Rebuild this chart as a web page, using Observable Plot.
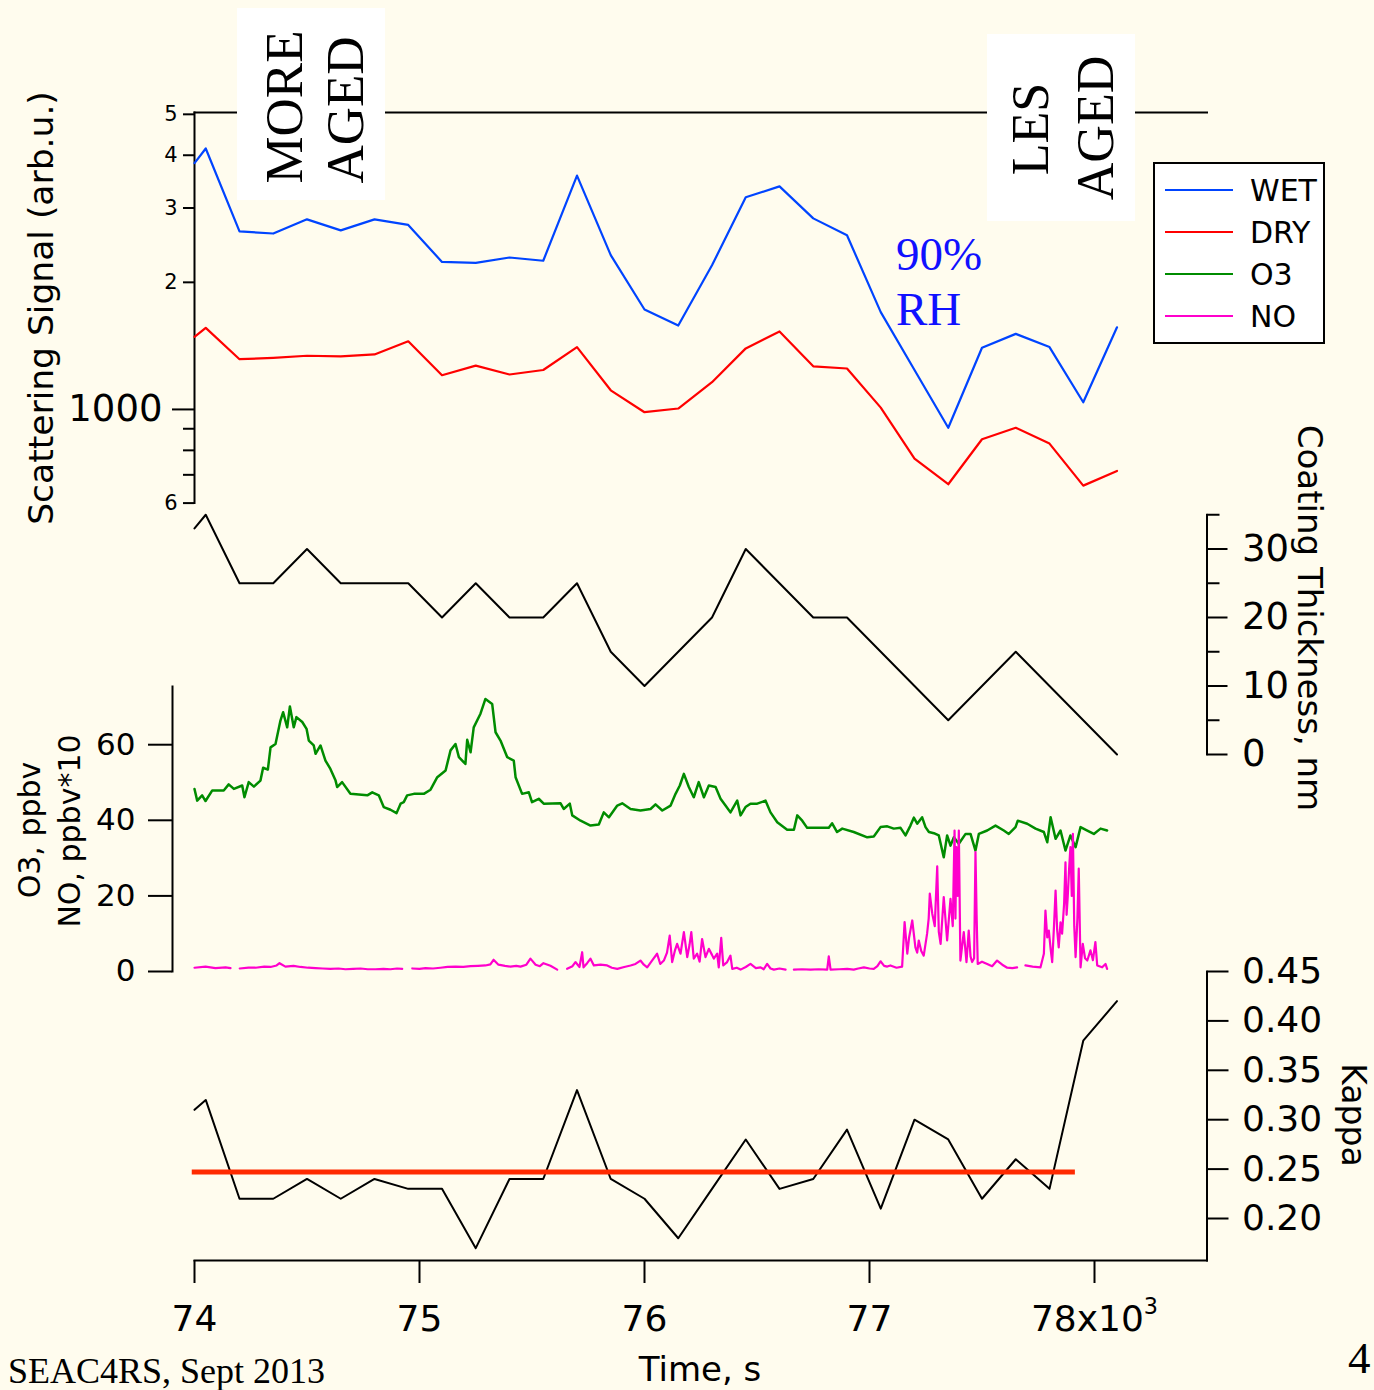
<!DOCTYPE html>
<html>
<head>
<meta charset="utf-8">
<script src="https://cdn.jsdelivr.net/npm/d3@7"></script>
<script src="https://cdn.jsdelivr.net/npm/@observablehq/plot@0.6"></script>
<style>
  body { margin: 0; background: #fffcee; }
  #fig { position: relative; width: 1374px; height: 1390px; overflow: hidden; background: #fffcee; }
  #fig > svg { position: absolute; left: 0; top: 0; }
</style>
</head>
<body>
<div id="fig"></div>
<script>
// ---- data -------------------------------------------------------------
// retrieval times (s)
const sampleTime = [74000, 74050, 74200, 74350, 74500, 74650, 74800, 74950, 75100, 75250,
  75400, 75550, 75700, 75850, 76000, 76150, 76300, 76450, 76600, 76750,
  76900, 77050, 77200, 77350, 77500, 77650, 77800, 77950, 78100];
// scattering signal, arb. units
const wetSignal = [3830, 4150, 2640, 2610, 2820, 2655, 2820, 2735, 2235, 2225,
  2290, 2250, 3580, 2320, 1725, 1580, 2195, 3180, 3375, 2835,
  2585, 1700, 1240, 905, 1400, 1510, 1405, 1040, 1565];
const drySignal = [1485, 1560, 1315, 1325, 1340, 1335, 1350, 1450, 1205, 1270,
  1210, 1240, 1405, 1110, 985, 1005, 1160, 1395, 1530, 1265,
  1250, 1010, 765, 665, 850, 905, 830, 660, 715];
// coating thickness, nm
const coatingNm = [33, 35, 25, 25, 30, 25, 25, 25, 20, 25,
  20, 20, 25, 15, 10, 15, 20, 30, 25, 20,
  20, 15, 10, 5, 10, 15, 10, 5, 0];
// hygroscopicity parameter
const kappa = [0.31, 0.32, 0.22, 0.22, 0.24, 0.22, 0.24, 0.23, 0.23, 0.17,
  0.24, 0.24, 0.33, 0.24, 0.22, 0.18, 0.23, 0.28, 0.23, 0.24,
  0.29, 0.21, 0.30, 0.28, 0.22, 0.26, 0.23, 0.38, 0.42];
// reference kappa level and the time span it is drawn over
const kappaRef = [{k: 0.247, t1: 73990, t2: 77915}];

// O3 (ppbv): [time s, value]
const o3Readings = [
  [74000,48.3],[74012,45.2],[74034,46.6],[74049,45.1],[74079,47.9],[74130,47.9],[74152,49.5],[74175,48.3],[74212,49.2],[74222,46.1],
  [74241,50.1],[74264,48.9],[74293,50.5],[74305,53.9],[74326,53.4],[74338,59.3],[74360,60.2],[74382,66.4],[74394,68.6],[74412,64.6],
  [74424,70.1],[74441,64.6],[74453,67.3],[74479,66.0],[74498,64.2],[74508,61.1],[74530,59.8],[74538,57.6],[74560,59.8],[74582,55.8],
  [74604,53.6],[74627,50.5],[74634,48.8],[74656,50.1],[74693,47.0],[74768,46.6],[74790,47.4],[74819,46.6],[74841,43.5],[74871,42.8],
  [74898,41.9],[74916,44.4],[74930,44.8],[74945,46.6],[74975,47.0],[75019,47.0],[75049,48.1],[75079,51.4],[75116,53.2],[75138,58.5],
  [75160,60.2],[75175,56.7],[75204,54.9],[75212,61.3],[75227,58.0],[75241,64.6],[75271,68.2],[75293,72.1],[75323,70.8],[75338,63.3],
  [75360,61.1],[75390,56.7],[75419,55.8],[75427,51.4],[75456,47.0],[75486,47.4],[75500,44.8],[75530,45.7],[75552,44.4],[75627,44.5],
  [75641,43.0],[75668,44.4],[75679,41.3],[75716,39.9],[75760,38.6],[75797,38.9],[75819,42.1],[75842,40.8],[75879,43.9],[75901,44.5],
  [75938,43.0],[75982,42.6],[76027,43.0],[76049,44.2],[76079,42.6],[76116,43.9],[76138,47.0],[76157,49.2],[76175,52.3],[76197,48.8],
  [76219,46.1],[76241,50.1],[76264,46.1],[76286,49.2],[76316,48.8],[76338,45.7],[76360,43.9],[76382,42.1],[76412,45.2],[76427,41.3],
  [76449,43.5],[76471,44.4],[76501,44.4],[76538,45.2],[76560,42.1],[76590,39.5],[76634,37.5],[76664,37.5],[76679,41.3],[76701,39.9],
  [76723,38.0],[76782,38.0],[76819,38.0],[76834,39.2],[76856,36.9],[76879,37.8],[76930,36.9],[76990,35.5],[77019,35.7],[77049,38.2],
  [77079,38.4],[77108,37.8],[77138,38.0],[77160,36.0],[77182,38.6],[77197,40.7],[77212,39.1],[77234,40.8],[77249,38.2],[77264,36.9],
  [77286,36.6],[77308,36.0],[77330,30.2],[77345,36.0],[77360,33.3],[77375,35.5],[77397,33.8],[77427,36.4],[77449,36.4],[77471,32.0],
  [77486,36.4],[77523,37.3],[77560,38.6],[77597,37.3],[77619,36.4],[77649,38.2],[77659,39.9],[77701,39.1],[77738,37.8],[77775,36.9],
  [77790,34.2],[77805,40.8],[77827,35.1],[77849,37.3],[77871,32.0],[77893,36.0],[77916,32.9],[77938,38.2],[77968,37.3],[77997,36.4],
  [78027,37.8],[78056,37.3]
];

// NO (ppbv*10): [time s, value]; null marks a data gap
const noReadings = [
  [74000,1.0],[74049,1.3],[74093,0.9],[74138,1.1],[74160,0.9],[74180,null],
  [74201,0.8],[74240,1.0],[74271,1.0],[74310,1.3],[74338,1.2],[74365,1.6],[74378,2.2],[74404,1.3],[74440,1.5],[74471,1.2],
  [74505,1.0],[74538,0.9],[74570,0.8],[74604,0.7],[74640,0.8],[74671,0.6],[74705,0.7],[74738,0.8],[74770,0.6],[74804,0.6],
  [74840,0.7],[74871,0.6],[74900,0.8],[74923,0.7],[74945,null],
  [74968,0.8],[75000,0.7],[75027,0.9],[75060,0.8],[75093,1.0],[75125,1.2],[75160,1.3],[75195,1.2],[75227,1.4],[75260,1.5],
  [75293,1.6],[75315,1.9],[75329,3.1],[75351,1.8],[75380,1.5],[75404,1.3],[75430,1.5],[75449,1.3],[75475,1.8],[75493,3.4],
  [75516,1.8],[75535,1.4],[75551,2.2],[75582,1.5],[75612,0.5],[75634,null],
  [75656,0.7],[75680,1.4],[75693,2.5],[75711,1.2],[75723,5.1],[75729,1.1],[75745,2.2],[75760,3.4],[75775,1.6],[75805,1.8],
  [75834,1.6],[75855,1.0],[75879,0.7],[75910,1.2],[75938,1.6],[75960,2.0],[75982,2.9],[75997,1.8],[76012,1.1],[76035,3.0],
  [76056,4.7],[76070,2.0],[76086,2.9],[76100,5.0],[76112,9.5],[76123,2.5],[76135,5.5],[76145,7.3],[76160,4.7],[76175,10.4],
  [76190,3.8],[76200,7.0],[76208,10.4],[76219,3.4],[76234,4.7],[76245,2.6],[76256,8.6],[76271,3.8],[76286,6.0],[76300,4.4],
  [76308,3.4],[76323,4.7],[76330,1.1],[76341,8.9],[76350,1.6],[76366,2.4],[76382,4.2],[76390,0.7],[76410,1.0],[76427,0.5],
  [76450,1.2],[76471,2.0],[76495,0.9],[76516,1.1],[76530,0.6],[76545,2.0],[76560,0.8],[76575,0.5],[76600,0.8],[76627,0.5],[76645,null],
  [76664,0.5],[76700,0.6],[76738,0.5],[76775,0.6],[76812,0.5],[76819,4.0],[76827,0.5],[76865,0.6],[76901,0.7],[76930,0.5],
  [76950,0.8],[76975,1.1],[77000,0.8],[77019,0.7],[77035,1.4],[77049,2.7],[77065,1.5],[77079,1.3],[77093,1.6],[77120,1.0],
  [77145,1.3],[77156,13.1],[77168,4.7],[77176,9.0],[77190,13.5],[77204,6.4],[77212,5.0],[77219,8.2],[77230,5.4],[77241,4.2],
  [77256,10.0],[77263,14.0],[77268,20.6],[77279,15.3],[77290,12.0],[77301,27.8],[77308,10.5],[77316,7.3],[77330,19.7],[77345,8.2],
  [77360,19.2],[77370,12.0],[77378,37.3],[77382,14.0],[77386,32.9],[77392,20.0],[77397,37.3],[77404,2.9],[77419,10.4],[77431,2.5],
  [77441,10.8],[77449,4.0],[77456,2.5],[77465,3.5],[77471,31.6],[77476,15.0],[77481,2.0],[77500,2.6],[77523,2.0],[77545,1.4],
  [77567,2.9],[77590,1.8],[77612,1.0],[77635,0.9],[77656,1.1],[77675,null],
  [77693,1.6],[77725,1.3],[77760,1.1],[77775,4.7],[77782,16.1],[77790,9.0],[77797,10.8],[77805,6.0],[77812,2.5],[77820,12.0],
  [77827,21.4],[77834,11.0],[77841,6.4],[77849,13.0],[77856,10.0],[77865,18.0],[77871,28.9],[77876,15.0],[77881,19.7],[77887,27.0],
  [77893,32.9],[77899,20.0],[77904,36.4],[77910,12.0],[77916,3.8],[77924,14.0],[77930,27.2],[77938,1.1],[77948,7.3],[77958,3.5],
  [77968,2.9],[77982,5.6],[77993,3.0],[78004,7.8],[78012,1.6],[78034,1.1],[78049,2.0],[78056,0.7]
];

// axis ticks
const timeTicks = [74000, 75000, 76000, 77000, 78000];
const scatMajorTicks = [1000];
const scatLabelledMinor = [600, 2000, 3000, 4000, 5000];
const scatPlainMinor = [700, 800, 900];
const coatMajorTicks = [0, 10, 20, 30];
const coatMinorTicks = [5, 15, 25, 35];
const o3Ticks = [0, 20, 40, 60];
const kappaTicks = [0.20, 0.25, 0.30, 0.35, 0.40, 0.45];

const legendKeys = ["WET", "DRY", "O3", "NO"];
const seriesColor = {WET: "#0044ff", DRY: "#ff0000", O3: "#008c00", NO: "#ff00cc"};

// ---- layout -----------------------------------------------------------
const W = 1374, H = 1390;
const SANS = "'DejaVu Sans', Verdana, sans-serif";
const SERIF = "'Liberation Serif', 'Times New Roman', serif";
const xDomain = [74000, 78500];
const ML = 194, MR = W - 1206.5;
const fig = document.getElementById("fig");

function panel(top, bottom, y, marks, showX = false) {
  const svg = Plot.plot({
    width: W, height: H,
    marginLeft: ML, marginRight: MR, marginTop: top, marginBottom: H - bottom,
    x: showX ? {domain: xDomain} : {domain: xDomain, axis: null},
    y,
    marks,
    style: {background: "transparent", overflow: "visible", fontFamily: SANS, color: "black"}
  });
  fig.appendChild(svg);
  return svg;
}

// scattering signal (log scale)
panel(112, 502.6, {type: "log", domain: [600, 5050]}, [
  Plot.frame({anchor: "top", strokeWidth: 2}),
  Plot.frame({anchor: "left", strokeWidth: 2}),
  Plot.axisY({ticks: scatMajorTicks, tickSize: 22, tickPadding: 10, fontSize: 37, strokeWidth: 2, label: null, tickFormat: d => String(d)}),
  Plot.axisY({ticks: scatLabelledMinor, tickSize: 11, tickPadding: 6, fontSize: 21, strokeWidth: 2, label: null, tickFormat: d => String(d)[0]}),
  Plot.axisY({ticks: scatPlainMinor, tickSize: 11, strokeWidth: 2, label: null, tickFormat: () => ""}),
  Plot.line(sampleTime, {x: sampleTime, y: drySignal, stroke: seriesColor.DRY, strokeWidth: 2.2}),
  Plot.line(sampleTime, {x: sampleTime, y: wetSignal, stroke: seriesColor.WET, strokeWidth: 2.2})
]);

// coating thickness
panel(514.25, 754, {domain: [0, 35]}, [
  Plot.frame({anchor: "right", strokeWidth: 2}),
  Plot.axisY({anchor: "right", ticks: coatMajorTicks, tickSize: 20, tickPadding: 15, fontSize: 37, strokeWidth: 2, label: null}),
  Plot.axisY({anchor: "right", ticks: coatMinorTicks, tickSize: 12, strokeWidth: 2, label: null, tickFormat: () => ""}),
  Plot.line(sampleTime, {x: sampleTime, y: coatingNm, stroke: "black", strokeWidth: 2})
]);

// O3 and NO
panel(686, 971, {domain: [0, 75.4]}, [
  Plot.frame({anchor: "left", strokeWidth: 2, dx: -22}),
  Plot.axisY({ticks: o3Ticks, tickSize: 24, tickPadding: 13, fontSize: 31, strokeWidth: 2, dx: -22, label: null}),
  Plot.line(o3Readings, {x: d => d[0], y: d => d[1], stroke: seriesColor.O3, strokeWidth: 2.5}),
  Plot.line(noReadings, {x: d => d[0], y: d => d[1], stroke: seriesColor.NO, strokeWidth: 2.2})
]);

// kappa + time axis
const kappaSvg = panel(971, 1260, {domain: [0.1575, 0.45]}, [
  Plot.frame({anchor: "right", strokeWidth: 2}),
  Plot.frame({anchor: "bottom", strokeWidth: 2}),
  Plot.axisY({anchor: "right", ticks: kappaTicks, tickSize: 21, tickPadding: 14, fontSize: 36, strokeWidth: 2, label: null, tickFormat: d3.format(".2f")}),
  Plot.axisX({ticks: timeTicks, tickSize: 23, tickPadding: 22, fontSize: 36, strokeWidth: 2, label: null,
    tickFormat: d => d === 78000 ? "78x10^3" : String(d / 1000)}),
  Plot.line(sampleTime, {x: sampleTime, y: kappa, stroke: "black", strokeWidth: 2}),
  Plot.ruleY(kappaRef, {x1: "t1", x2: "t2", y: "k", stroke: "#ff2a00", strokeWidth: 5})
], true);

// set the exponent of the last time label as a raised superscript
d3.select(kappaSvg).selectAll("text").each(function () {
  const t = d3.select(this);
  const s = t.text();
  if (s.includes("^")) {
    const [base, exp] = s.split("^");
    t.text(base);
    t.append("tspan").attr("dy", "-0.75em").attr("font-size", "0.62em").text(exp);
  }
});

// ---- annotations, titles and legend -----------------------------------
const ov = d3.create("svg").attr("width", W).attr("height", H).attr("viewBox", `0 0 ${W} ${H}`);

function label(txt, x, y, {size = 34, rotate = 0, anchor = "middle", family = SANS, fill = "black"} = {}) {
  ov.append("text")
    .attr("transform", `translate(${x},${y}) rotate(${rotate})`)
    .attr("text-anchor", anchor)
    .attr("font-size", size)
    .attr("font-family", family)
    .attr("fill", fill)
    .text(txt);
}

// ageing annotation boxes
ov.append("rect").attr("x", 237).attr("y", 8).attr("width", 148).attr("height", 192).attr("fill", "white");
ov.append("rect").attr("x", 987).attr("y", 34).attr("width", 148).attr("height", 187).attr("fill", "white");
label("MORE", 302, 107, {size: 53, rotate: -90, family: SERIF});
label("AGED", 363, 110, {size: 53, rotate: -90, family: SERIF});
label("LES", 1048, 129, {size: 52, rotate: -90, family: SERIF});
label("AGED", 1113, 128, {size: 52, rotate: -90, family: SERIF});

label("90%", 896, 270, {size: 47, anchor: "start", family: SERIF, fill: "#1010ff"});
label("RH", 896, 325, {size: 47, anchor: "start", family: SERIF, fill: "#1010ff"});

// axis titles
label("Scattering Signal (arb.u.)", 53, 308, {size: 34.5, rotate: -90});
label("Coating Thickness, nm", 1298, 618, {size: 34, rotate: 90});
label("O3, ppbv", 40, 830, {size: 30, rotate: -90});
label("NO, ppbv*10", 80, 831, {size: 30, rotate: -90});
label("Kappa", 1342, 1115, {size: 33, rotate: 90});
label("Time, s", 700, 1381, {size: 34});

label("SEAC4RS, Sept 2013", 8, 1383, {size: 36, anchor: "start", family: SERIF});
label("4", 1348, 1373, {size: 45, anchor: "start", family: SERIF});

// legend
const lg = ov.append("g");
lg.append("rect").attr("x", 1154).attr("y", 163).attr("width", 170).attr("height", 180)
  .attr("fill", "white").attr("stroke", "black").attr("stroke-width", 2);
legendKeys.forEach((k, i) => {
  const yy = 190 + i * 42;
  lg.append("line").attr("x1", 1165).attr("x2", 1233).attr("y1", yy).attr("y2", yy)
    .attr("stroke", seriesColor[k]).attr("stroke-width", 2);
  lg.append("text").attr("x", 1250).attr("y", yy + 11).attr("font-size", 30)
    .attr("font-family", SANS).attr("fill", "black").text(k);
});

fig.appendChild(ov.node());
</script>
</body>
</html>
